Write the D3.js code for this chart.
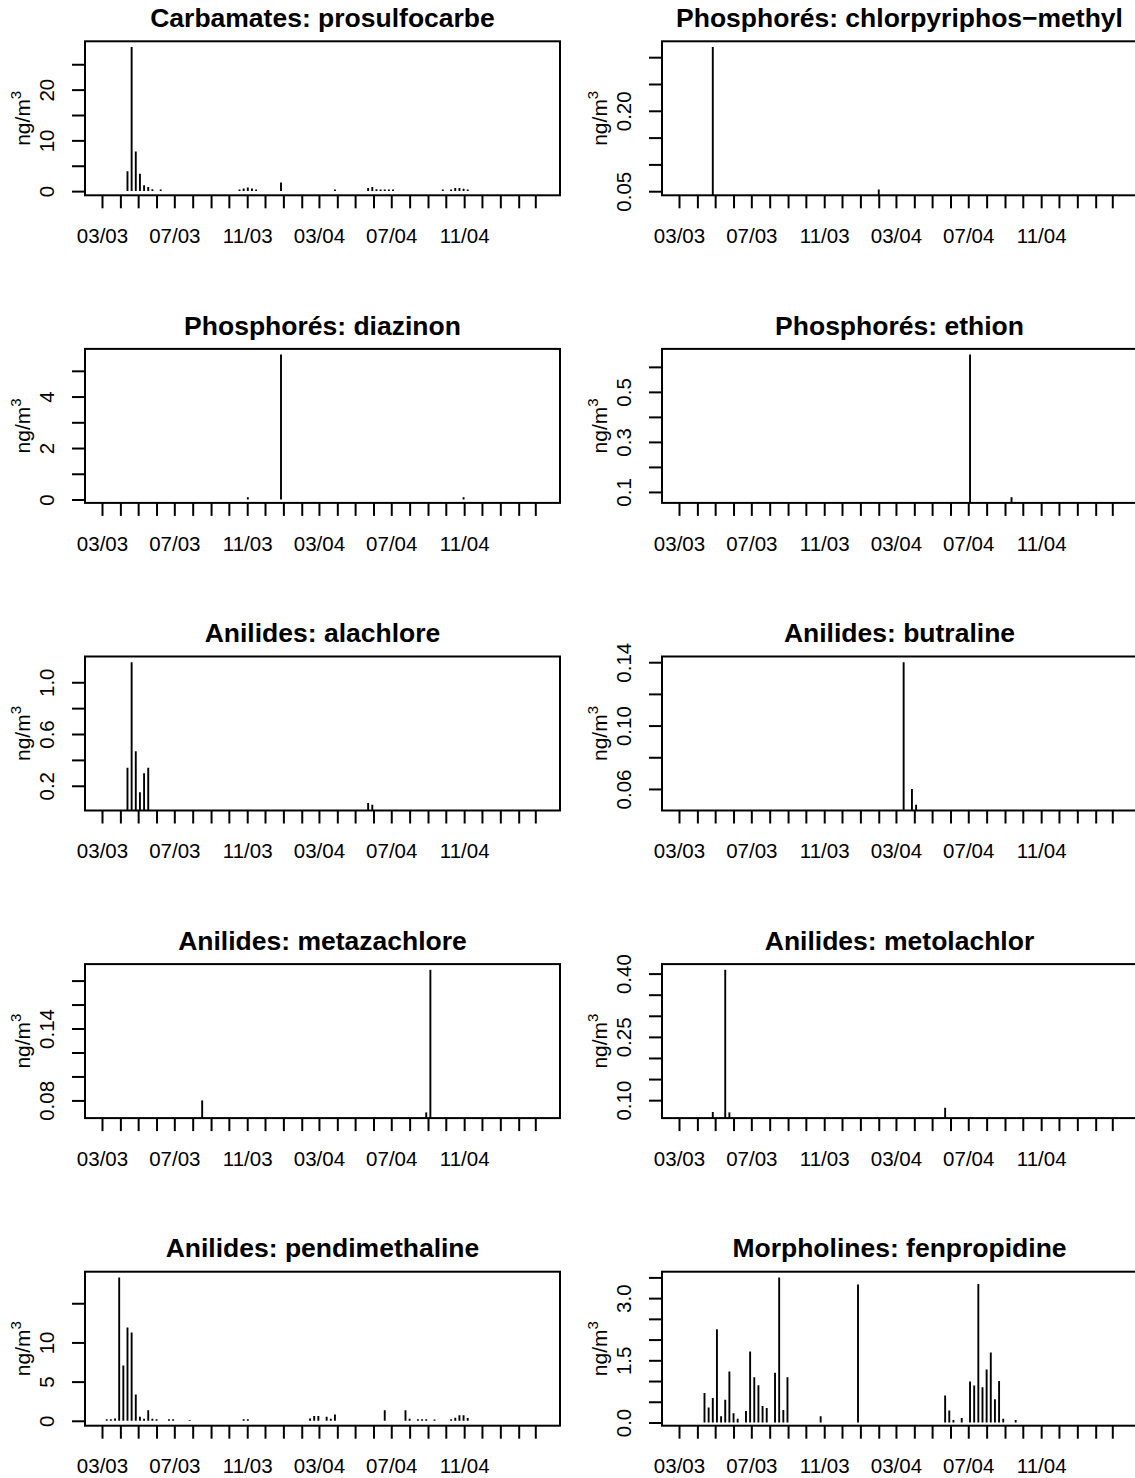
<!DOCTYPE html>
<html><head><meta charset="utf-8">
<script src="https://cdn.jsdelivr.net/npm/d3@7"></script>
<style>
body{margin:0;background:#fff}
text{font-family:"Liberation Sans",Arial,Helvetica,sans-serif;fill:#000}
</style>
</head><body>
<svg id="chart" width="1135" height="1478"></svg>
<script>
// ---- data (weekly sampling, only detected values; others missing) ----
const campaignExtent = ["2003-03-02", "2005-03-13"];
const xTickRange = ["2003-03-01", "2005-03-01"];   // monthly ticks, inclusive
const xTickLabels = ["03/03", "07/03", "11/03", "03/04", "07/04", "11/04"];

const prosulfocarbe = [["2003-04-13",3.9],["2003-04-20",28.4],["2003-04-27",7.8],["2003-05-04",3.4],["2003-05-11",1.15],["2003-05-18",0.8],["2003-05-25",0.35],["2003-06-08",0.3],["2003-10-19",0.3],["2003-10-26",0.5],["2003-11-02",0.7],["2003-11-09",0.5],["2003-11-16",0.3],["2003-12-28",1.7],["2004-03-28",0.3],["2004-05-23",0.6],["2004-05-30",0.8],["2004-06-06",0.35],["2004-06-13",0.3],["2004-06-20",0.3],["2004-06-27",0.3],["2004-07-04",0.3],["2004-09-26",0.3],["2004-10-10",0.3],["2004-10-17",0.6],["2004-10-24",0.6],["2004-10-31",0.45],["2004-11-07",0.3]];
const prosulfocarbeTicks = [0,5,10,15,20,25];
const prosulfocarbeLabels = ["0","","10","","20",""];

const chlorpyriphos = [["2003-04-27",0.319],["2004-02-01",0.053]];
const chlorpyriphosTicks = [0.05,0.10,0.15,0.20,0.25,0.30];
const chlorpyriphosLabels = ["0.05","","","0.20","",""];

const diazinon = [["2003-11-02",0.09],["2003-12-28",5.63],["2004-10-31",0.09]];
const diazinonTicks = [0,1,2,3,4,5];
const diazinonLabels = ["0","","2","","4",""];

const ethion = [["2004-07-04",0.649],["2004-09-12",0.079]];
const ethionTicks = [0.1,0.2,0.3,0.4,0.5,0.6];
const ethionLabels = ["0.1","","0.3","","0.5",""];

const alachlore = [["2003-04-13",0.34],["2003-04-20",1.155],["2003-04-27",0.467],["2003-05-04",0.149],["2003-05-11",0.297],["2003-05-18",0.34],["2004-05-23",0.067],["2004-05-30",0.053]];
const alachloreTicks = [0.2,0.4,0.6,0.8,1.0];
const alachloreLabels = ["0.2","","0.6","","1.0"];

const butraline = [["2004-03-14",0.140],["2004-03-28",0.060],["2004-04-04",0.050]];
const butralineTicks = [0.06,0.08,0.10,0.12,0.14];
const butralineLabels = ["0.06","","0.10","","0.14"];

const metazachlore = [["2003-08-17",0.080],["2004-08-29",0.070],["2004-09-05",0.189]];
const metazachloreTicks = [0.08,0.10,0.12,0.14,0.16,0.18];
const metazachloreLabels = ["0.08","","","0.14","",""];

const metolachlor = [["2003-04-27",0.072],["2003-05-18",0.409],["2003-05-25",0.071],["2004-05-23",0.082]];
const metolachlorTicks = [0.10,0.15,0.20,0.25,0.30,0.35,0.40];
const metolachlorLabels = ["0.10","","","0.25","","","0.40"];

const pendimethaline = [["2003-03-09",0.2],["2003-03-16",0.2],["2003-03-23",0.3],["2003-03-30",18.3],["2003-04-06",7.06],["2003-04-13",11.9],["2003-04-20",11.28],["2003-04-27",3.34],["2003-05-04",0.5],["2003-05-11",0.25],["2003-05-18",1.35],["2003-05-25",0.25],["2003-06-01",0.2],["2003-06-22",0.2],["2003-06-29",0.2],["2003-07-27",0.1],["2003-10-26",0.2],["2003-11-02",0.2],["2004-02-15",0.3],["2004-02-22",0.6],["2004-02-29",0.6],["2004-03-14",0.5],["2004-03-21",0.25],["2004-03-28",0.8],["2004-06-20",1.35],["2004-07-25",1.35],["2004-08-01",0.25],["2004-08-15",0.2],["2004-08-22",0.2],["2004-08-29",0.2],["2004-09-12",0.15],["2004-10-10",0.2],["2004-10-17",0.4],["2004-10-24",0.7],["2004-10-31",0.7],["2004-11-07",0.35]];
const pendimethalineTicks = [0,5,10,15];
const pendimethalineLabels = ["0","5","10",""];

const fenpropidine = [["2003-04-13",0.71],["2003-04-20",0.36],["2003-04-27",0.59],["2003-05-04",2.25],["2003-05-11",0.15],["2003-05-18",0.55],["2003-05-25",1.23],["2003-06-01",0.22],["2003-06-08",0.09],["2003-06-22",0.28],["2003-06-29",1.71],["2003-07-06",1.09],["2003-07-13",0.90],["2003-07-20",0.40],["2003-07-27",0.35],["2003-08-10",1.20],["2003-08-17",3.5],["2003-08-24",0.30],["2003-08-31",1.09],["2003-10-26",0.15],["2003-12-28",3.33],["2004-05-23",0.65],["2004-05-30",0.29],["2004-06-06",0.06],["2004-06-20",0.11],["2004-07-04",0.99],["2004-07-11",0.89],["2004-07-18",3.34],["2004-07-25",0.85],["2004-08-01",1.28],["2004-08-08",1.69],["2004-08-15",0.56],["2004-08-22",1.0],["2004-08-29",0.09],["2004-09-19",0.06]];
const fenpropidineTicks = [0,0.5,1.0,1.5,2.0,2.5,3.0,3.5];
const fenpropidineLabels = ["0.0","","","1.5","","","3.0",""];

const panels = [
  {title:"Carbamates: prosulfocarbe", data:prosulfocarbe, ticks:prosulfocarbeTicks, labels:prosulfocarbeLabels},
  {title:"Phosphorés: chlorpyriphos\u2212methyl", data:chlorpyriphos, ticks:chlorpyriphosTicks, labels:chlorpyriphosLabels},
  {title:"Phosphorés: diazinon", data:diazinon, ticks:diazinonTicks, labels:diazinonLabels},
  {title:"Phosphorés: ethion", data:ethion, ticks:ethionTicks, labels:ethionLabels},
  {title:"Anilides: alachlore", data:alachlore, ticks:alachloreTicks, labels:alachloreLabels},
  {title:"Anilides: butraline", data:butraline, ticks:butralineTicks, labels:butralineLabels},
  {title:"Anilides: metazachlore", data:metazachlore, ticks:metazachloreTicks, labels:metazachloreLabels},
  {title:"Anilides: metolachlor", data:metolachlor, ticks:metolachlorTicks, labels:metolachlorLabels},
  {title:"Anilides: pendimethaline", data:pendimethaline, ticks:pendimethalineTicks, labels:pendimethalineLabels},
  {title:"Morpholines: fenpropidine", data:fenpropidine, ticks:fenpropidineTicks, labels:fenpropidineLabels}
];

// ---- layout ----
const colStride = 577, rowStride = 307.6;
const box = {l:85, r:560, t:41.3, b:195.3};
const parse = d3.utcParse("%Y-%m-%d");
const fmt = d3.utcFormat("%m/%y");

const ext = campaignExtent.map(parse);
const span = ext[1] - ext[0];
const x = d3.scaleUtc()
  .domain([new Date(+ext[0] - 0.04*span), new Date(+ext[1] + 0.04*span)])
  .range([box.l, box.r]);
const tr = xTickRange.map(parse);
const monthTicks = d3.utcMonth.range(tr[0], d3.utcDay.offset(tr[1], 1));

const svg = d3.select("#chart");
svg.append("rect").attr("width",1135).attr("height",1478).attr("fill","#fff");

panels.forEach((p, i) => {
  const col = i % 2, row = Math.floor(i / 2);
  const g = svg.append("g").attr("transform", `translate(${col*colStride},${row*rowStride})`);
  const vals = p.data.map(d => d[1]);
  const mn = d3.min(vals), mx = d3.max(vals), r = mx - mn;
  const y = d3.scaleLinear().domain([mn - 0.04*r, mx + 0.04*r]).range([box.b, box.t]);

  const cid = "clip" + i;
  g.append("clipPath").attr("id", cid).append("rect")
    .attr("x", box.l).attr("y", box.t).attr("width", box.r - box.l).attr("height", box.b - box.t);

  // spikes (type = "h")
  g.append("g").attr("clip-path", `url(#${cid})`)
    .selectAll("line").data(p.data).join("line")
    .attr("x1", d => x(parse(d[0]))).attr("x2", d => x(parse(d[0])))
    .attr("y1", y(0)).attr("y2", d => y(d[1]))
    .attr("stroke", "#000").attr("stroke-width", 1.9);

  // box
  g.append("rect").attr("x", box.l).attr("y", box.t)
    .attr("width", box.r - box.l).attr("height", box.b - box.t)
    .attr("fill", "none").attr("stroke", "#000").attr("stroke-width", 2);

  // x axis
  const xa = g.append("g").attr("transform", `translate(0,${box.b})`)
    .call(d3.axisBottom(x).tickValues(monthTicks).tickSize(13).tickSizeOuter(0)
      .tickFormat(d => xTickLabels.includes(fmt(d)) ? fmt(d) : ""));
  xa.select(".domain").remove();
  xa.selectAll("line").attr("stroke", "#000").attr("stroke-width", 2);
  xa.selectAll("text").attr("y", 47.7).attr("dy", null)
    .style("font-size", "20.5px").style("font-family", '"Liberation Sans",Arial,sans-serif').attr("fill", "#000");

  // y axis
  const ya = g.append("g").attr("transform", `translate(${box.l},0)`)
    .call(d3.axisLeft(y).tickValues(p.ticks).tickSize(13).tickSizeOuter(0)
      .tickFormat((d, k) => p.labels[k]));
  ya.select(".domain").remove();
  ya.selectAll("line").attr("stroke", "#000").attr("stroke-width", 2);
  ya.selectAll("text").attr("x", null).attr("dy", null)
    .attr("text-anchor", "middle")
    .attr("transform", "translate(-31.5,0) rotate(-90)")
    .style("font-size", "20.5px").style("font-family", '"Liberation Sans",Arial,sans-serif').attr("fill", "#000");

  // y label ng/m3
  const yl = g.append("text")
    .attr("transform", `translate(29.5,${(box.t + box.b)/2}) rotate(-90)`)
    .attr("text-anchor", "middle").style("font-size", "21px");
  yl.append("tspan").text("ng/m");
  yl.append("tspan").attr("dy", -9).style("font-size", "15px").text("3");

  // title
  g.append("text").attr("x", (box.l + box.r)/2).attr("y", 27)
    .attr("text-anchor", "middle").style("font-size", "26.5px").style("font-weight", "bold")
    .text(p.title);
});
</script>
</body></html>
